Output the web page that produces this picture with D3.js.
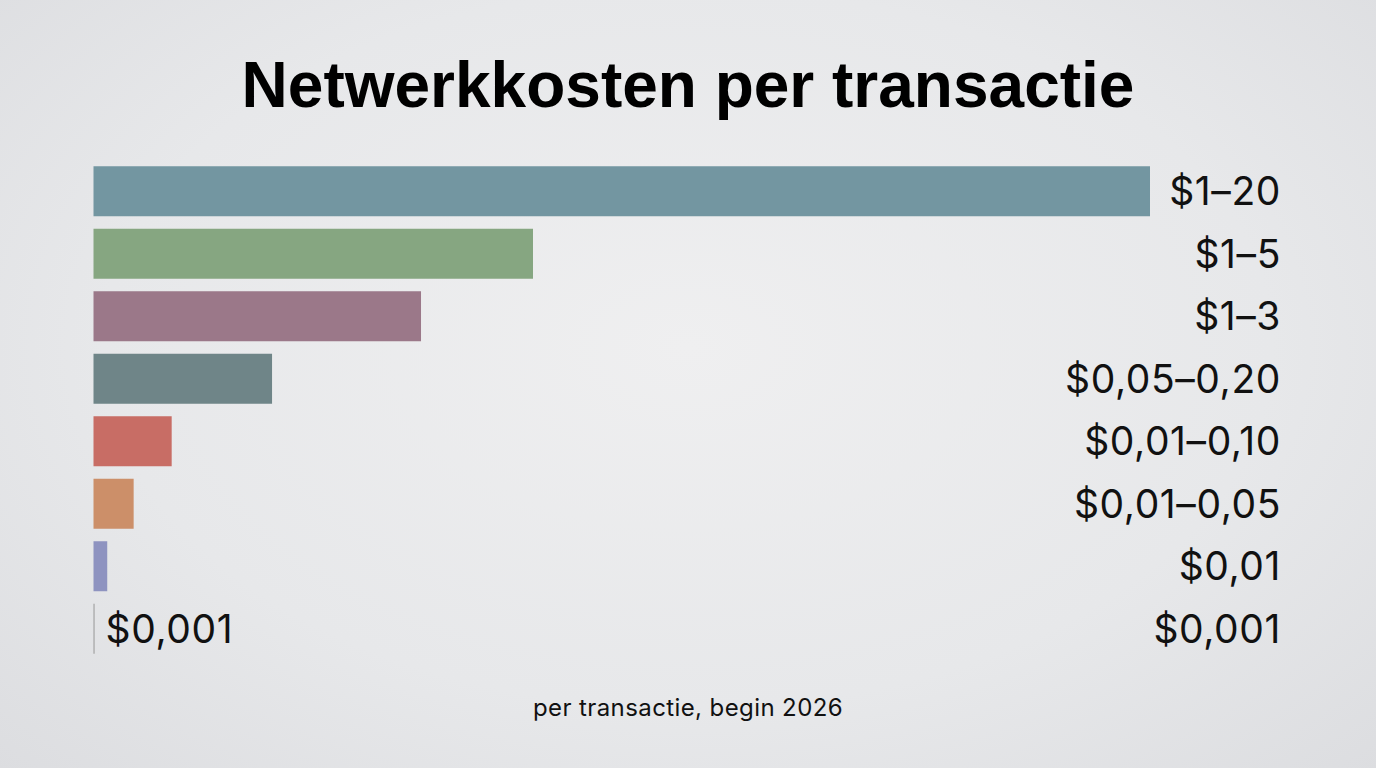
<!DOCTYPE html>
<html>
<head>
  <meta charset="utf-8">
  <script src="https://d3js.org/d3.v7.min.js"></script>
  <style>
    html, body {
      margin: 0;
      padding: 0;
      overflow: hidden;
    }
    body {
      background: radial-gradient(ellipse at 50% 45%, #efeff0 0%, #e7e8ea 60%, #dcdde0 100%);
      font-family: Inter, "Noto Sans", sans-serif;
    }
  </style>
</head>
<body>
  <script>
    // Chart data
    const categories = ["A", "B", "C", "D", "E", "F", "G", "H"];
    const values = [100, 41.6, 31.0, 16.9, 7.4, 3.8, 1.3, 0.1];   // relative bar length
    const valueLabels = ["$1–20", "$1–5", "$1–3", "$0,05–0,20", "$0,01–0,10", "$0,01–0,05", "$0,01", "$0,001"];
    const colors = ["#7396a1", "#86a681", "#9b7889", "#6f8588", "#c86d65", "#cc8f69", "#8e93c0", "#9a9a9a"];

    const width = 1376;
    const height = 768;

    const svg = d3.select("body")
      .append("svg")
      .attr("width", width)
      .attr("height", height);

    // Title
    svg.append("text")
      .attr("x", width / 2)
      .attr("y", 107)
      .attr("text-anchor", "middle")
      .attr("font-family", "'Liberation Sans', Arial, sans-serif")
      .attr("font-weight", "bold")
      .attr("font-size", 64)
      .attr("fill", "#000")
      .text("Netwerkkosten per transactie");

    // Scales
    const x = d3.scaleLinear()
      .domain([0, 100])
      .range([93.5, 1150]);

    const y = d3.scaleBand()
      .domain(categories)
      .range([160, 660])
      .paddingInner(0.2)
      .paddingOuter(0.1);

    // Bars
    svg.selectAll(".bar")
      .data(values)
      .join("rect")
      .attr("class", "bar")
      .attr("x", x(0))
      .attr("y", (d, i) => y(categories[i]))
      .attr("width", d => Math.max(1, x(d) - x(0)))
      .attr("height", y.bandwidth())
      .attr("fill", (d, i) => colors[i]);

    // Value labels, right aligned
    svg.selectAll(".value-label")
      .data(valueLabels)
      .join("text")
      .attr("class", "value-label")
      .attr("x", 1281)
      .attr("y", (d, i) => y(categories[i]) + y.bandwidth() / 2)
      .attr("dy", "0.36em")
      .attr("text-anchor", "end")
      .attr("font-size", 39)
      .attr("letter-spacing", 0.6)
      .attr("fill", "#111")
      .text(d => d);

    // Inline label next to the smallest bar
    const last = values.length - 1;
    svg.append("text")
      .attr("x", x(values[last]) + 11)
      .attr("y", y(categories[last]) + y.bandwidth() / 2)
      .attr("dy", "0.36em")
      .attr("font-size", 39)
      .attr("letter-spacing", 0.6)
      .attr("fill", "#111")
      .text(valueLabels[last]);

    // Subtitle
    svg.append("text")
      .attr("x", width / 2)
      .attr("y", 716)
      .attr("text-anchor", "middle")
      .attr("font-size", 24)
      .attr("letter-spacing", 0.4)
      .attr("fill", "#111")
      .text("per transactie, begin 2026");
  </script>
</body>
</html>
